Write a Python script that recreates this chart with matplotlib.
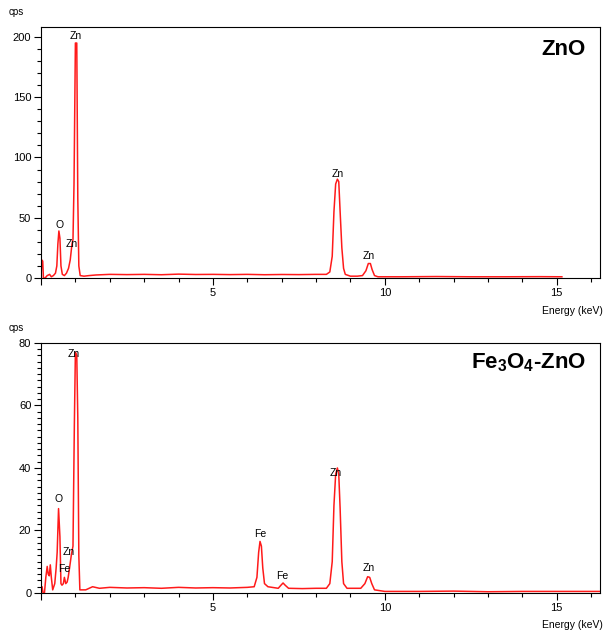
import matplotlib.pyplot as plt
from matplotlib.ticker import MultipleLocator

plt.rcParams['font.family'] = ['Liberation Sans', 'DejaVu Sans']
plt.rcParams['mathtext.fontset'] = 'custom'
plt.rcParams['mathtext.rm'] = 'Liberation Sans'
plt.rcParams['mathtext.bf'] = 'Liberation Sans:bold'

# ZnO spectrum (energy keV, counts per second)
zno_energy = [0.00, 0.02, 0.05, 0.07, 0.12, 0.18, 0.25, 0.30, 0.36, 0.42, 0.46, 0.49,
              0.52, 0.55, 0.58, 0.62, 0.68, 0.74, 0.80, 0.85, 0.90, 0.93, 0.96, 1.00,
              1.04, 1.07, 1.10, 1.14, 1.25, 1.40, 1.60, 2.00, 2.50, 3.00, 3.50, 4.00,
              4.50, 5.00, 5.50, 6.00, 6.50, 7.00, 7.50, 8.00, 8.30, 8.40, 8.47, 8.52,
              8.57, 8.62, 8.66, 8.70, 8.75, 8.80, 8.85, 9.00, 9.20, 9.35, 9.45, 9.52,
              9.58, 9.63, 9.70, 9.80, 10.5, 11.5, 12.5, 13.5, 14.5, 15.15]
zno_counts = [0, 15, 14, 0, 0, 2, 3, 1, 2, 4, 10, 28,
              39, 33, 10, 3, 2, 4, 8, 15, 28, 32, 78, 195,
              195, 66, 10, 2, 1.5, 2, 2.5, 3, 2.8, 3, 2.7, 3.2,
              2.9, 3, 2.8, 3, 2.7, 2.9, 2.8, 3, 3, 5, 18, 55,
              78, 82, 80, 55, 25, 8, 3, 1.5, 1.5, 2, 6, 12,
              12, 7, 2, 1, 1, 1.2, 1, 1, 1.1, 1]

# Fe3O4-ZnO spectrum
fezno_energy = [0.00, 0.03, 0.06, 0.10, 0.14, 0.18, 0.21, 0.24, 0.27, 0.30, 0.34,
                0.40, 0.44, 0.47, 0.51, 0.55, 0.58, 0.61, 0.65, 0.68, 0.72, 0.76,
                0.79, 0.83, 0.88, 0.93, 0.97, 1.00, 1.04, 1.07, 1.10, 1.13, 1.30,
                1.50, 1.70, 2.00, 2.50, 3.00, 3.50, 4.00, 4.50, 5.00, 5.50, 6.00,
                6.20, 6.28, 6.33, 6.37, 6.41, 6.45, 6.50, 6.60, 6.90, 6.98, 7.04,
                7.10, 7.20, 7.60, 8.00, 8.30, 8.40, 8.47, 8.52, 8.57, 8.62, 8.66,
                8.70, 8.75, 8.80, 8.90, 9.30, 9.42, 9.50, 9.56, 9.62, 9.70, 10.0,
                11.0, 12.0, 13.0, 14.0, 15.0, 16.4]
fezno_counts = [1.6, 2, 0, 0, 5, 8.5, 6, 5.5, 9, 5, 1,
                3, 8, 13, 27, 18, 3, 2.5, 3, 5, 3, 3.5,
                5, 8, 12, 15, 54, 77, 76, 56, 12, 1, 1,
                2, 1.5, 1.8, 1.6, 1.7, 1.5, 1.8, 1.6, 1.7, 1.6, 1.8,
                2, 5, 13, 16.5, 15, 8, 3, 2, 1.5, 2.5, 3.2,
                2.5, 1.5, 1.4, 1.5, 1.5, 3, 10, 28, 38, 40, 38,
                27, 10, 3, 1.5, 1.5, 3, 5.2, 5, 3, 1, 0.5,
                0.5, 0.6, 0.4, 0.5, 0.5, 0.5]

# peak labels: (text, energy, counts)
zno_labels = [('Zn', 1.00, 201), ('O', 0.53, 44), ('Zn', 0.88, 28),
              ('Zn', 8.62, 86), ('Zn', 9.52, 18)]
fezno_labels = [('Zn', 0.96, 76.5), ('O', 0.51, 30), ('Zn', 0.80, 13),
                ('Fe', 0.68, 7.6), ('Fe', 6.37, 19), ('Fe', 7.03, 5.4),
                ('Zn', 8.57, 38.5), ('Zn', 9.52, 8)]

red = '#ff1a1a'

fig = plt.figure(figsize=(6.04, 6.37), dpi=100)
ax1 = fig.add_axes([0.0679, 0.5636, 0.925, 0.394])
ax2 = fig.add_axes([0.0679, 0.0691, 0.925, 0.3925])


def draw_panel(ax, energy, counts, labels, ymax, major, minor, title, ty):
    ax.plot(energy, counts, color=red, lw=1.1)
    ax.set_xlim(0, 16.25)
    ax.set_ylim(0, ymax)
    ax.xaxis.set_major_locator(MultipleLocator(5))
    ax.xaxis.set_minor_locator(MultipleLocator(1))
    ax.yaxis.set_major_locator(MultipleLocator(major))
    ax.yaxis.set_minor_locator(MultipleLocator(minor))
    ax.tick_params(which='major', length=5, width=0.8, labelsize=8, pad=2)
    ax.tick_params(which='minor', length=3, width=0.8)
    ax.xaxis.set_major_formatter(plt.FuncFormatter(lambda v, p: '' if v == 0 else f'{v:g}'))
    for s in ax.spines.values():
        s.set_linewidth(0.8)
    for txt, x, y in labels:
        ax.text(x, y, txt, fontsize=7.5, ha='center', va='center')
    ax.text(0.975, ty, title, transform=ax.transAxes, fontsize=16,
            fontweight='bold', ha='right', va='center')
    ax.text(-0.045, 1.06, 'cps', transform=ax.transAxes, fontsize=7, ha='center', va='center')
    ax.text(1.005, -0.13, 'Energy (keV)', transform=ax.transAxes, fontsize=7.5,
            ha='right', va='center')


draw_panel(ax1, zno_energy, zno_counts, zno_labels, 208.3, 50, 10, 'ZnO', 0.912)
draw_panel(ax2, fezno_energy, fezno_counts, fezno_labels, 80, 20, 2,
           r'$\mathbf{Fe_{3}O_{4}}$-ZnO', 0.92)

fig.savefig('out.png', dpi=100)
